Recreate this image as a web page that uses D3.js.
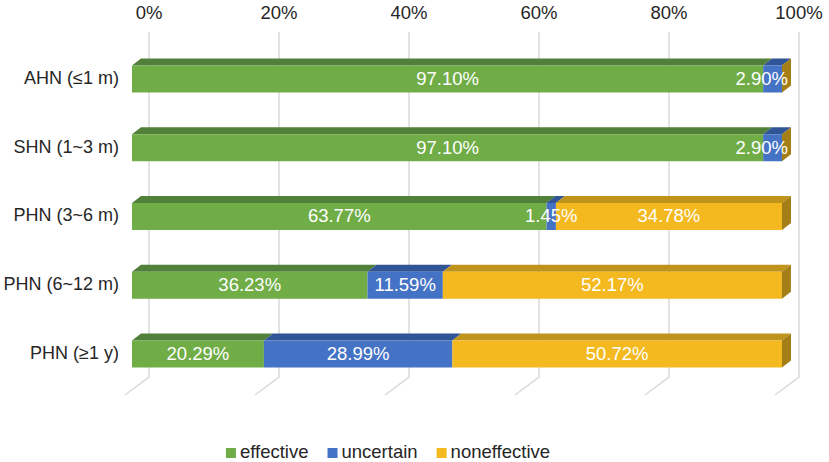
<!DOCTYPE html>
<html>
<head>
<meta charset="utf-8">
<script src="https://cdn.jsdelivr.net/npm/d3@7"></script>
<style>
  body { margin: 0; background: #fff; }
  svg { display: block; font-family: Arial, "Liberation Sans", sans-serif; }
</style>
</head>
<body>
<div id="chart"></div>
<script>
// data
const categories = ["AHN (≤1 m)", "SHN (1~3 m)", "PHN (3~6 m)", "PHN (6~12 m)", "PHN (≥1 y)"];
const effective = [97.10, 97.10, 63.77, 36.23, 20.29];
const uncertain = [2.90, 2.90, 1.45, 11.59, 28.99];
const noneffective = [0, 0, 34.78, 52.17, 50.72];
const tickValues = [0, 20, 40, 60, 80, 100];
const seriesNames = ["effective", "uncertain", "noneffective"];

const W = 829, H = 462;

// colours: front / top face
const front = ["#70ad47", "#4472c4", "#f3b91f"];
const topFace = ["#50803a", "#2f5597", "#c0941a"];
const sideColor = "#a47e17";

const svg = d3.select("#chart").append("svg")
    .attr("width", W)
    .attr("height", H);

// front face scale, the back wall sits a bit to the right
const x = d3.scaleLinear().domain([0, 100]).range([132, 782]);
const backDx = 17;
const y = d3.scalePoint().domain(categories).range([79, 354]);
const barH = 27;
const depthX = 9, depthY = 7;

const gridTop = 32, gridBottom = 377;

// Gridlines on back wall + floor diagonal
const grid = svg.append("g").attr("class", "grid");
tickValues.forEach(t => {
    const gx = x(t) + backDx;
    grid.append("path")
        .attr("d", `M${gx},${gridTop} L${gx},${gridBottom} L${gx - 24},${gridBottom + 18}`)
        .attr("fill", "none")
        .attr("stroke", "#d9d9d9")
        .attr("stroke-width", 1.5);
});

// Tick labels along the top
svg.append("g")
    .selectAll("text")
    .data(tickValues)
    .join("text")
    .attr("x", d => x(d) + backDx)
    .attr("y", 14)
    .attr("text-anchor", "middle")
    .attr("dominant-baseline", "middle")
    .attr("font-size", "18.5px")
    .attr("fill", "#262626")
    .text(d => d + "%");

// Category labels
svg.append("g")
    .selectAll("text")
    .data(categories)
    .join("text")
    .attr("x", 119)
    .attr("y", d => y(d))
    .attr("text-anchor", "end")
    .attr("dominant-baseline", "middle")
    .attr("font-size", "18px")
    .attr("fill", "#262626")
    .text(d => d);

// build stacked rows
const rows = categories.map((c, i) => {
    const vals = [effective[i], uncertain[i], noneffective[i]];
    let acc = 0;
    const segs = vals.map((v, s) => {
        const seg = { s: s, v: v, x0: acc, x1: acc + v };
        acc += v;
        return seg;
    });
    return { cat: c, segs: segs, total: acc };
});

const bars = svg.append("g").attr("class", "bars");

rows.forEach(row => {
    const yTop = y(row.cat) - barH / 2;
    const yBot = yTop + barH;
    const g = bars.append("g");

    row.segs.forEach(seg => {
        if (seg.v <= 0) return;
        const a = x(seg.x0), b = x(seg.x1);
        // top face
        g.append("path")
            .attr("d", `M${a},${yTop} L${a + depthX},${yTop - depthY} L${b + depthX},${yTop - depthY} L${b},${yTop} Z`)
            .attr("fill", topFace[seg.s]);
        // front face
        g.append("rect")
            .attr("x", a)
            .attr("y", yTop)
            .attr("width", b - a)
            .attr("height", barH)
            .attr("fill", front[seg.s]);
    });

    // right side face (last series colour, even when it is zero)
    const e = x(row.total);
    g.append("path")
        .attr("d", `M${e},${yTop} L${e + depthX},${yTop - depthY} L${e + depthX},${yBot - depthY} L${e},${yBot} Z`)
        .attr("fill", sideColor);

    // data labels
    row.segs.forEach(seg => {
        if (seg.v <= 0) return;
        const t = g.append("text")
            .attr("y", y(row.cat) + 1)
            .attr("text-anchor", "middle")
            .attr("dominant-baseline", "middle")
            .attr("font-size", "18.5px")
            .attr("fill", "#fff")
            .text(seg.v.toFixed(2) + "%");
        const w = t.node().getComputedTextLength();
        const cx = Math.min((x(seg.x0) + x(seg.x1)) / 2, x(100) + 6 - w / 2);
        t.attr("x", cx);
    });
});

// Legend
const legend = svg.append("g").attr("class", "legend");
let lx = 0;
seriesNames.forEach((name, i) => {
    const item = legend.append("g").attr("transform", `translate(${lx},0)`);
    item.append("rect")
        .attr("x", 0)
        .attr("y", -5)
        .attr("width", 10)
        .attr("height", 10)
        .attr("fill", front[i]);
    const t = item.append("text")
        .attr("x", 14)
        .attr("y", 0)
        .attr("dominant-baseline", "middle")
        .attr("font-size", "18.5px")
        .attr("fill", "#262626")
        .text(name);
    lx += 14 + t.node().getComputedTextLength() + 19;
});
const legendW = lx - 19;
legend.attr("transform", `translate(${388 - legendW / 2},453)`);
</script>
</body>
</html>
